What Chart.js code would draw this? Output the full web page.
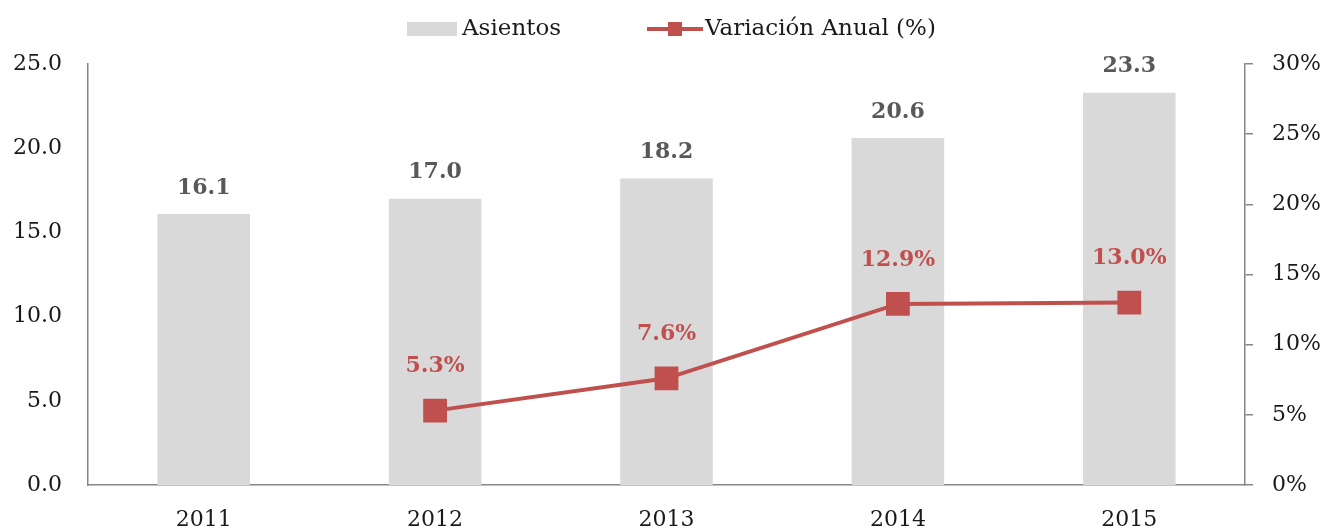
<!DOCTYPE html>
<html>
<head>
<meta charset="utf-8">
<script src="https://cdn.jsdelivr.net/npm/chart.js@4/dist/chart.umd.min.js"></script>
<style>
  body { margin: 0; background: #fff; }
  #wrap { position: relative; width: 1329px; height: 532px; }
  #legend { position: absolute; top: 12px; left: 0; width: 1329px; font-family: "DejaVu Serif", serif; font-size: 23px; color: #1a1a1a; }
  .item { position: absolute; top: 0; height: 30px; line-height: 30px; white-space: nowrap; }
  .sw { position: absolute; }
</style>
</head>
<body>
<div id="wrap">
  <canvas id="c" width="1329" height="532"></canvas>
  <div id="legend">
    <div class="item" style="left:407px">
      <span class="sw" style="left:0;top:10px;width:50px;height:14px;background:#d9d9d9"></span>
      <span style="position:absolute;left:55px">Asientos</span>
    </div>
    <div class="item" style="left:647px">
      <span class="sw" style="left:0;top:15px;width:56px;height:4px;background:#c0504d"></span>
      <span class="sw" style="left:21px;top:10px;width:14px;height:14px;background:#c0504d"></span>
      <span style="position:absolute;left:58px">Variación Anual (%)</span>
    </div>
  </div>
</div>
<script>
// datos
const anios = ['2011', '2012', '2013', '2014', '2015'];
const asientos = [16.1, 17.0, 18.2, 20.6, 23.3];
const variacion = [null, 5.3, 7.6, 12.9, 13.0];

const fuente = '"DejaVu Serif", serif';

// etiquetas de datos encima de barras y puntos
const etiquetas = {
  id: 'etiquetas',
  afterDatasetsDraw(chart) {
    const ctx = chart.ctx;
    ctx.save();
    ctx.textAlign = 'center';
    ctx.textBaseline = 'middle';
    ctx.font = 'bold 22px ' + fuente;
    chart.getDatasetMeta(1).data.forEach((bar, i) => {
      ctx.fillStyle = '#595959';
      ctx.fillText(asientos[i].toFixed(1), bar.x, bar.y - 26);
    });
    chart.getDatasetMeta(0).data.forEach((pt, i) => {
      if (variacion[i] == null) return;
      ctx.fillStyle = '#c0504d';
      ctx.fillText(variacion[i].toFixed(1) + '%', pt.x, pt.y - 44);
    });
    ctx.restore();
  }
};

new Chart(document.getElementById('c'), {
  data: {
    labels: anios,
    datasets: [
      {
        type: 'line',
        label: 'Variación Anual (%)',
        data: variacion,
        yAxisID: 'y2',
        borderColor: '#c0504d',
        backgroundColor: '#c0504d',
        borderWidth: 4,
        pointStyle: 'rect',
        pointRadius: 14,
        pointHoverRadius: 14,
        tension: 0,
        order: 0
      },
      {
        type: 'bar',
        label: 'Asientos',
        data: asientos,
        yAxisID: 'y',
        backgroundColor: '#d9d9d9',
        barPercentage: 0.4,
        categoryPercentage: 1.0,
        order: 1
      }
    ]
  },
  options: {
    responsive: false,
    animation: false,
    layout: { padding: { top: 64, left: 0, right: 0, bottom: 0 } },
    plugins: {
      legend: { display: false },
      tooltip: { enabled: false }
    },
    scales: {
      x: {
        grid: { display: false },
        border: { display: true, color: '#868686', width: 1.5 },
        ticks: { color: '#1a1a1a', font: { family: fuente, size: 22 }, padding: 14 },
        afterFit(s) { s.height = 47; }
      },
      y: {
        position: 'left',
        min: 0, max: 25,
        grid: { display: false },
        border: { display: true, color: '#868686', width: 1.5 },
        ticks: {
          stepSize: 5, padding: 18, color: '#1a1a1a',
          font: { family: fuente, size: 22 },
          callback: v => v.toFixed(1)
        },
        afterFit(s) { s.width = 88; }
      },
      y2: {
        position: 'right',
        min: 0, max: 30,
        grid: { drawOnChartArea: false, drawTicks: true, tickLength: 8, color: '#868686', lineWidth: 1.5 },
        border: { display: true, color: '#868686', width: 1.5 },
        ticks: {
          stepSize: 5, padding: 19, color: '#1a1a1a',
          font: { family: fuente, size: 22 },
          callback: v => v + '%'
        },
        afterFit(s) { s.width = 84; }
      }
    }
  },
  plugins: [etiquetas]
});
</script>
</body>
</html>
